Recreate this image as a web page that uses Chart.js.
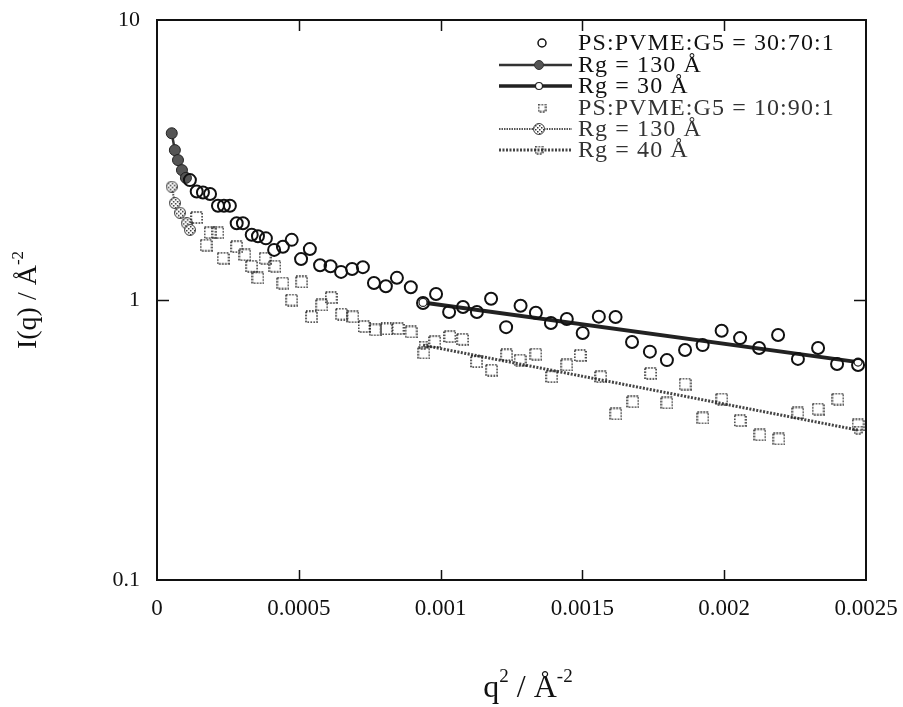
<!DOCTYPE html>
<html>
<head>
<meta charset="utf-8">
<script src="https://cdn.jsdelivr.net/npm/chart.js@4.4.1/dist/chart.umd.min.js"></script>
<style>
  html, body { margin: 0; padding: 0; background: #fff; }
  #wrap { width: 903px; height: 707px; }
</style>
</head>
<body>
<div id="wrap"><canvas id="c"></canvas></div>
<script>
// PS:PVME:G5 = 30:70:1 (open circles)
const q2Circles = [1.16e-4, 1.40e-4, 1.62e-4, 1.87e-4, 2.15e-4, 2.36e-4, 2.57e-4, 2.81e-4, 3.03e-4, 3.34e-4,
  3.56e-4, 3.84e-4, 4.13e-4, 4.44e-4, 4.75e-4, 5.08e-4, 5.39e-4, 5.75e-4, 6.12e-4, 6.49e-4,
  6.88e-4, 7.26e-4, 7.65e-4, 8.07e-4, 8.46e-4, 8.95e-4, 9.38e-4, 9.84e-4, 10.30e-4, 10.79e-4,
  11.28e-4, 11.78e-4, 12.31e-4, 12.82e-4, 13.36e-4, 13.89e-4, 14.45e-4, 15.01e-4, 15.58e-4, 16.17e-4,
  16.75e-4, 17.38e-4, 17.98e-4, 18.62e-4, 19.24e-4, 19.91e-4, 20.56e-4, 21.23e-4, 21.90e-4, 22.60e-4,
  23.31e-4, 23.98e-4, 24.72e-4];
const iCircles = [2.68, 2.44, 2.42, 2.39, 2.17, 2.17, 2.17, 1.88, 1.88, 1.71,
  1.69, 1.66, 1.51, 1.55, 1.64, 1.40, 1.52, 1.33, 1.32, 1.26,
  1.29, 1.31, 1.15, 1.12, 1.20, 1.11, 0.976, 1.05, 0.906, 0.944,
  0.906, 1.01, 0.80, 0.954, 0.901, 0.828, 0.855, 0.762, 0.872, 0.87,
  0.708, 0.654, 0.61, 0.663, 0.69, 0.777, 0.731, 0.674, 0.75, 0.616,
  0.674, 0.591, 0.586];

// PS:PVME:G5 = 10:90:1 (open squares)
const q2Squares = [1.40e-4, 1.73e-4, 1.87e-4, 2.15e-4, 2.33e-4, 2.81e-4, 3.10e-4, 3.34e-4, 3.56e-4, 3.81e-4,
  4.16e-4, 4.44e-4, 4.75e-4, 5.10e-4, 5.45e-4, 5.81e-4, 6.14e-4, 6.51e-4, 6.91e-4, 7.30e-4,
  7.69e-4, 8.09e-4, 8.50e-4, 8.96e-4, 9.41e-4, 9.80e-4, 10.33e-4, 10.78e-4, 11.27e-4, 11.80e-4,
  12.33e-4, 12.80e-4, 13.36e-4, 13.92e-4, 14.45e-4, 14.92e-4, 15.65e-4, 16.18e-4, 16.78e-4, 17.41e-4,
  17.98e-4, 18.62e-4, 19.25e-4, 19.92e-4, 20.56e-4, 21.26e-4, 21.93e-4, 22.60e-4, 23.31e-4, 24.01e-4,
  24.72e-4];
const iSquares = [1.97, 1.57, 1.74, 1.74, 1.41, 1.55, 1.45, 1.32, 1.20, 1.41,
  1.32, 1.15, 1.00, 1.16, 0.871, 0.96, 1.02, 0.891, 0.871, 0.804,
  0.782, 0.788, 0.791, 0.769, 0.647, 0.71, 0.74, 0.724, 0.602, 0.562,
  0.637, 0.61, 0.641, 0.532, 0.586, 0.634, 0.532, 0.392, 0.433, 0.547,
  0.429, 0.501, 0.379, 0.443, 0.371, 0.33, 0.319, 0.395, 0.408, 0.443,
  0.358];

// Guinier fits
const q2Fit130a = [0.52e-4, 0.63e-4, 0.74e-4, 0.88e-4, 1.02e-4];
const iFit130a = [3.94, 3.43, 3.16, 2.91, 2.73];
const q2Fit30 = [9.38e-4, 24.72e-4];
const iFit30 = [0.98, 0.60];
const q2Fit130b = [0.52e-4, 0.63e-4, 0.81e-4, 1.05e-4, 1.16e-4];
const iFit130b = [2.54, 2.22, 2.05, 1.88, 1.78];
const q2Fit40 = [9.38e-4, 24.72e-4];
const iFit40 = [0.69, 0.343];

const xTickValues = [0, 0.0005, 0.001, 0.0015, 0.002, 0.0025];
const xTickLabels = ["0", "0.0005", "0.001", "0.0015", "0.002", "0.0025"];
const yTickValues = [0.1, 1, 10];
const yTickLabels = ["0.1", "1", "10"];

const legendLabels = [
  "PS:PVME:G5 = 30:70:1",
  "Rg = 130 Å",
  "Rg = 30 Å",
  "PS:PVME:G5 = 10:90:1",
  "Rg = 130 Å",
  "Rg = 40 Å",
];

const SERIF = "'Liberation Serif', 'Times New Roman', serif";

function toPoints(xs, ys) {
  return xs.map((x, i) => ({ x: x, y: ys[i] }));
}

// dotted open square marker
function makeDottedSquare(size) {
  const c = document.createElement("canvas");
  c.width = size + 2;
  c.height = size + 2;
  const g = c.getContext("2d");
  g.strokeStyle = "#1a1a1a";
  g.lineWidth = 1.6;
  g.setLineDash([1.6, 1.4]);
  g.strokeRect(1, 1, size, size);
  return c;
}

// cross-hatched round marker
function makeHatchCircle(size) {
  const c = document.createElement("canvas");
  c.width = size;
  c.height = size;
  const g = c.getContext("2d");
  g.fillStyle = "#fff";
  g.beginPath();
  g.arc(size / 2, size / 2, size / 2 - 0.5, 0, Math.PI * 2);
  g.fill();
  g.save();
  g.clip();
  g.fillStyle = "#333";
  for (let i = 0; i < size; i += 2) {
    for (let j = 0; j < size; j += 2) {
      if (((i + j) / 2) % 2 === 0) g.fillRect(i, j, 1.5, 1.5);
    }
  }
  g.restore();
  g.strokeStyle = "#444";
  g.lineWidth = 1;
  g.beginPath();
  g.arc(size / 2, size / 2, size / 2 - 0.5, 0, Math.PI * 2);
  g.stroke();
  return c;
}

const squareMark = makeDottedSquare(11);
const squareMarkSmall = makeDottedSquare(7);
const hatchMark = makeHatchCircle(12);

function drawSup(ctx, parts, x, y, size) {
  // parts: [text, isSup], centred on x
  const big = size + "px " + SERIF;
  const small = Math.round(size * 0.6) + "px " + SERIF;
  let total = 0;
  parts.forEach(p => {
    ctx.font = p[1] ? small : big;
    total += ctx.measureText(p[0]).width;
  });
  let cx = x - total / 2;
  parts.forEach(p => {
    ctx.font = p[1] ? small : big;
    ctx.fillText(p[0], cx, p[1] ? y - size * 0.47 : y);
    cx += ctx.measureText(p[0]).width;
  });
}

const decorPlugin = {
  id: "decor",
  afterDraw(chart) {
    const ctx = chart.ctx;
    const a = chart.chartArea;
    const xs = chart.scales.x;
    const ys = chart.scales.y;
    ctx.save();
    ctx.strokeStyle = "#111";
    ctx.lineWidth = 2;
    ctx.strokeRect(a.left, a.top, a.right - a.left, a.bottom - a.top);

    // inward ticks
    ctx.lineWidth = 1.5;
    ctx.beginPath();
    xTickValues.slice(1, -1).forEach(v => {
      const px = Math.round(xs.getPixelForValue(v)) + 0.5;
      ctx.moveTo(px, a.bottom);
      ctx.lineTo(px, a.bottom - 10);
      ctx.moveTo(px, a.top);
      ctx.lineTo(px, a.top + 11);
    });
    const py1 = Math.round(ys.getPixelForValue(1)) + 0.5;
    ctx.moveTo(a.left, py1);
    ctx.lineTo(a.left + 12, py1);
    ctx.moveTo(a.right, py1);
    ctx.lineTo(a.right - 12, py1);
    ctx.stroke();

    // legend
    ctx.textBaseline = "middle";
    ctx.textAlign = "left";
    ctx.font = "24px " + SERIF;
    if ("letterSpacing" in ctx) ctx.letterSpacing = "1.1px";
    const rowY = [43, 65, 86, 108, 129, 150];
    const lx0 = 499, lx1 = 572, mx = 539, tx = 578;
    legendLabels.forEach((t, i) => {
      ctx.fillStyle = i >= 3 ? "#333" : "#111";
      ctx.fillText(t, tx, rowY[i] + 1);
    });
    if ("letterSpacing" in ctx) ctx.letterSpacing = "0px";
    // row 1: circle marker
    ctx.strokeStyle = "#111";
    ctx.lineWidth = 1.5;
    ctx.beginPath();
    ctx.arc(mx + 3, rowY[0], 4, 0, Math.PI * 2);
    ctx.stroke();
    // row 2: line + filled circle
    ctx.lineWidth = 2.5;
    ctx.strokeStyle = "#333";
    ctx.beginPath();
    ctx.moveTo(lx0, rowY[1]);
    ctx.lineTo(lx1, rowY[1]);
    ctx.stroke();
    ctx.fillStyle = "#555";
    ctx.beginPath();
    ctx.arc(mx, rowY[1], 4.5, 0, Math.PI * 2);
    ctx.fill();
    ctx.lineWidth = 1;
    ctx.stroke();
    // row 3: thick line + open circle
    ctx.lineWidth = 3.5;
    ctx.strokeStyle = "#222";
    ctx.beginPath();
    ctx.moveTo(lx0, rowY[2]);
    ctx.lineTo(lx1, rowY[2]);
    ctx.stroke();
    ctx.fillStyle = "#fff";
    ctx.lineWidth = 1.2;
    ctx.beginPath();
    ctx.arc(mx, rowY[2], 3.5, 0, Math.PI * 2);
    ctx.fill();
    ctx.stroke();
    // row 4: dotted square
    ctx.drawImage(squareMarkSmall, mx + 3 - 4.5, rowY[3] - 4.5);
    // row 5: wavy line + hatched marker
    ctx.strokeStyle = "#555";
    ctx.lineWidth = 2;
    ctx.setLineDash([1.5, 1]);
    ctx.beginPath();
    ctx.moveTo(lx0, rowY[4]);
    ctx.lineTo(lx1, rowY[4]);
    ctx.stroke();
    ctx.setLineDash([]);
    ctx.drawImage(hatchMark, mx - 6, rowY[4] - 6);
    // row 6: chain line + square
    ctx.strokeStyle = "#444";
    ctx.lineWidth = 3;
    ctx.setLineDash([2, 1.5]);
    ctx.beginPath();
    ctx.moveTo(lx0, rowY[5]);
    ctx.lineTo(lx1, rowY[5]);
    ctx.stroke();
    ctx.setLineDash([]);
    ctx.drawImage(squareMarkSmall, mx - 4.5, rowY[5] - 4.5);

    // axis titles
    ctx.fillStyle = "#111";
    ctx.textBaseline = "alphabetic";
    drawSup(ctx, [["q", false], ["2", true], [" / Å", false], ["-2", true]], 528, 697, 32);
    ctx.translate(36, 300);
    ctx.rotate(-Math.PI / 2);
    drawSup(ctx, [["I(q) / Å", false], ["-2", true]], 0, 0, 28);
    ctx.restore();
  },
};

const ctx = document.getElementById("c").getContext("2d");

new Chart(ctx, {
  type: "scatter",
  data: {
    datasets: [
      {
        label: legendLabels[0],
        data: toPoints(q2Circles, iCircles),
        pointStyle: "circle",
        pointRadius: 6,
        pointBorderWidth: 2,
        pointBorderColor: "#111",
        pointBackgroundColor: "rgba(255,255,255,0)",
        showLine: false,
      },
      {
        label: legendLabels[1],
        data: toPoints(q2Fit130a, iFit130a),
        showLine: true,
        borderColor: "#333",
        borderWidth: 2.5,
        pointRadius: 5.5,
        pointBackgroundColor: "#555",
        pointBorderColor: "#222",
        pointBorderWidth: 1,
      },
      {
        label: legendLabels[2],
        data: toPoints(q2Fit30, iFit30),
        showLine: true,
        borderColor: "#222",
        borderWidth: 4,
        pointRadius: 4,
        pointBackgroundColor: "#fff",
        pointBorderColor: "#222",
        pointBorderWidth: 1.2,
      },
      {
        label: legendLabels[3],
        data: toPoints(q2Squares, iSquares),
        pointStyle: squareMark,
        showLine: false,
      },
      {
        label: legendLabels[4],
        data: toPoints(q2Fit130b, iFit130b),
        showLine: true,
        borderColor: "#555",
        borderWidth: 2,
        borderDash: [1.5, 1],
        pointStyle: hatchMark,
      },
      {
        label: legendLabels[5],
        data: toPoints(q2Fit40, iFit40),
        showLine: true,
        borderColor: "#444",
        borderWidth: 3,
        borderDash: [2, 1.5],
        pointStyle: squareMarkSmall,
      },
    ],
  },
  options: {
    responsive: true,
    maintainAspectRatio: false,
    animation: false,
    layout: {
      padding: { top: 20, right: 37, left: 0, bottom: 0 },
    },
    scales: {
      x: {
        type: "linear",
        min: 0,
        max: 0.0025,
        grid: { display: false, drawTicks: false },
        border: { display: false },
        afterBuildTicks: (s) => {
          s.ticks = xTickValues.map((v) => ({ value: v }));
        },
        afterFit: (s) => {
          s.height = 127;
          s.paddingLeft = 0;
          s.paddingRight = 0;
        },
        ticks: {
          autoSkip: false,
          maxRotation: 0,
          padding: 15,
          color: "#111",
          font: { family: SERIF, size: 23 },
          callback: (v, i) => xTickLabels[i],
        },
      },
      y: {
        type: "logarithmic",
        min: 0.1,
        max: 10,
        grid: { display: false, drawTicks: false },
        border: { display: false },
        afterBuildTicks: (s) => {
          s.ticks = yTickValues.map((v) => ({ value: v }));
        },
        afterFit: (s) => {
          s.width = 157;
          s.paddingTop = 0;
          s.paddingBottom = 0;
        },
        ticks: {
          autoSkip: false,
          padding: 17,
          color: "#111",
          font: { family: SERIF, size: 22 },
          callback: (v, i) => yTickLabels[i],
        },
      },
    },
    plugins: {
      legend: { display: false },
      title: { display: false },
      tooltip: { enabled: false },
    },
  },
  plugins: [decorPlugin],
});
</script>
</body>
</html>
